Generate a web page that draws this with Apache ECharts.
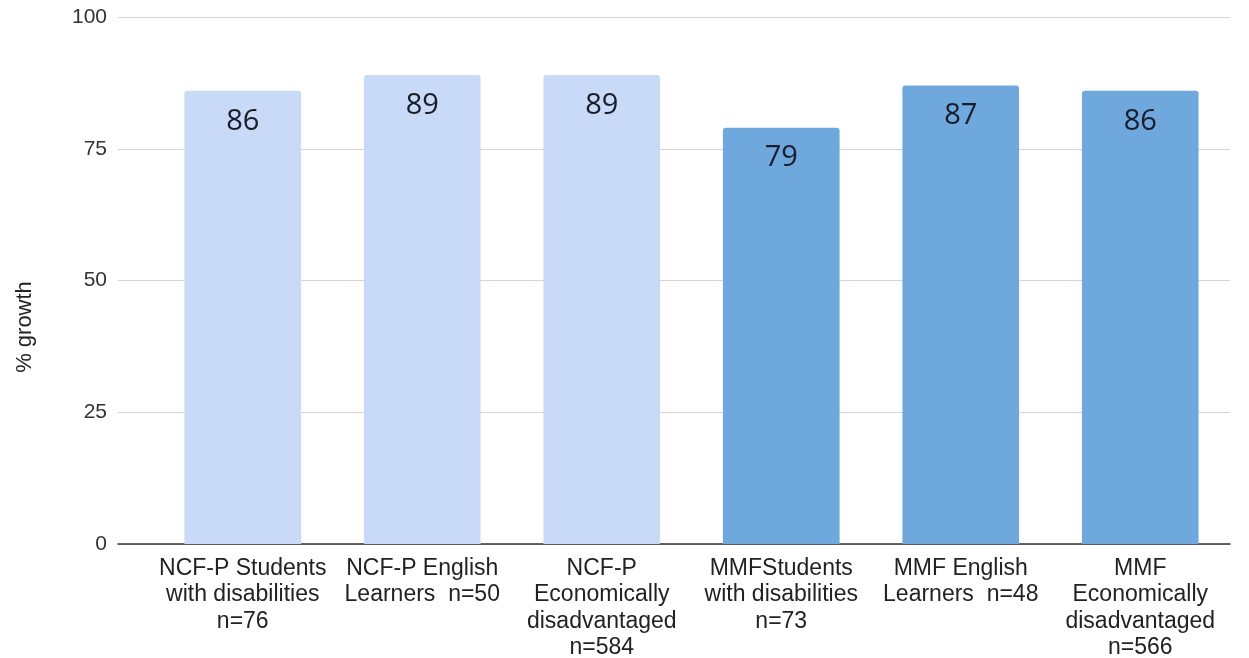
<!DOCTYPE html>
<html>
<head>
<meta charset="utf-8">
<script src="https://cdn.jsdelivr.net/npm/echarts@6/dist/echarts.min.js"></script>
<style>
  html, body { margin: 0; padding: 0; background: #ffffff; }
  #chart { width: 1249px; height: 658px; }
</style>
</head>
<body>
<div id="chart"></div>
<script>
const categories = [
  "NCF-P Students\nwith disabilities\nn=76",
  "NCF-P English\nLearners  n=50",
  "NCF-P\nEconomically\ndisadvantaged\nn=584",
  "MMFStudents\nwith disabilities\nn=73",
  "MMF English\nLearners  n=48",
  "MMF\nEconomically\ndisadvantaged\nn=566"
];
const growth = [86, 89, 89, 79, 87, 86];
const program = ["NCF-P", "NCF-P", "NCF-P", "MMF", "MMF", "MMF"];
const yAxisName = "% growth";
const yMin = 0, yMax = 100, yStep = 25;

const programColor = { "NCF-P": "#c9daf8", "MMF": "#6fa8dc" };

const chart = echarts.init(document.getElementById('chart'), null, { renderer: 'canvas' });
const gridTop = 17, gridBottom = 114;
chart.setOption({
  backgroundColor: '#ffffff',
  animation: false,
  grid: [
    { left: 118, right: 19, top: gridTop, bottom: gridBottom, containLabel: false, outerBoundsMode: 'none' },
    { left: 153, right: 19, top: gridTop, bottom: gridBottom, containLabel: false, outerBoundsMode: 'none' }
  ],
  xAxis: [
    {
      gridIndex: 0, type: 'value', min: 0, max: 1,
      axisLabel: { show: false }, axisTick: { show: false }, splitLine: { show: false },
      axisLine: { show: true, lineStyle: { color: '#333333', width: 1.5 } }
    },
    {
      gridIndex: 1, type: 'category', data: categories,
      axisLine: { show: false }, axisTick: { show: false },
      axisLabel: {
        interval: 0, fontSize: 23, lineHeight: 26.5, color: '#222222', margin: 11,
        fontFamily: 'Liberation Sans, Arial, sans-serif'
      }
    }
  ],
  yAxis: [
    {
      gridIndex: 0, type: 'value', min: yMin, max: yMax, interval: yStep,
      axisLine: { show: false }, axisTick: { show: false },
      axisLabel: { fontSize: 21, color: '#333333', margin: 11, fontFamily: 'Liberation Sans, Arial, sans-serif' },
      splitLine: { show: true, lineStyle: { color: '#d4d4d4', width: 1 } }
    },
    { gridIndex: 1, type: 'value', min: yMin, max: yMax, show: false }
  ],
  series: [{
    type: 'bar',
    xAxisIndex: 1, yAxisIndex: 1,
    barCategoryGap: '35%',
    data: growth.map((v, i) => ({ value: v, itemStyle: { color: programColor[program[i]] } })),
    itemStyle: { borderRadius: [3, 3, 0, 0] },
    label: {
      show: true, position: 'insideTop', distance: 16,
      fontSize: 29, color: '#1a1e2c', fontFamily: 'Open Sans, Noto Sans, sans-serif'
    }
  }],
  graphic: [{
    type: 'text', x: 25, y: 327, rotation: Math.PI / 2,
    style: {
      text: yAxisName, fontSize: 22, fill: '#222222',
      fontFamily: 'Liberation Sans, Arial, sans-serif', align: 'center', verticalAlign: 'middle'
    }
  }]
});
</script>
</body>
</html>
